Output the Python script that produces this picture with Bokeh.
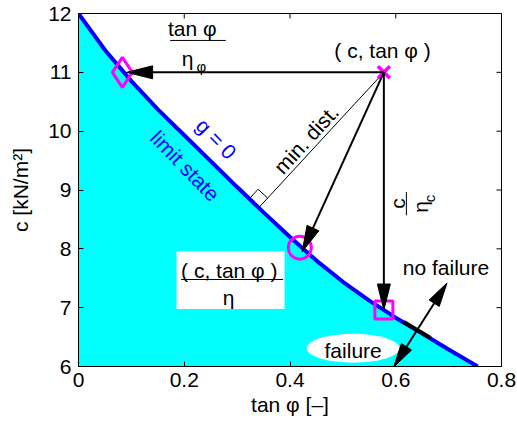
import math
from bokeh.plotting import figure
from bokeh.models import FixedTicker, Range1d, ColumnDataSource
from bokeh.embed import file_html
from bokeh.resources import INLINE
from bokeh.core.properties import value

# ---------------- data ----------------
tan_phi = [0.0, 0.05, 0.10, 0.15, 0.20, 0.25, 0.30, 0.35, 0.40, 0.45,
           0.50, 0.55, 0.60, 0.65, 0.70, 0.755]
c_limit = [12.0, 11.38, 10.85, 10.37, 9.93, 9.49, 9.05, 8.62, 8.20, 7.80,
           7.44, 7.12, 6.83, 6.56, 6.29, 6.0]

x_ticks = [0, 0.2, 0.4, 0.6, 0.8]
y_ticks = [6, 7, 8, 9, 10, 11, 12]

design_pt = (0.5775, 11.0)      # ( c, tan phi )  cross
pt_phi = (0.083, 11.0)          # reduced tan phi  diamond
pt_eta = (0.4186, 8.02)         # reduced both     circle
pt_c = (0.5775, 6.96)           # reduced c        square
tip_phi = (0.091, 11.0)
tip_eta = (0.423, 7.95)
foot_pt = (0.341, 8.70)         # min. distance foot
normal_seg = [(0.6153, 6.757), (0.6657, 6.485)]  # black piece of limit line
dbl_arrow = [(0.596, 5.99), (0.697, 7.42)]

# ---------------- figure ----------------
W, H = 517, 429
BL, BR, BT, BB = 78, 16, 13, 63
FW, FH = W - BL - BR, H - BT - BB
X0, X1, Y0, Y1 = 0.0, 0.8, 6.0, 12.0
SX, SY = FW / (X1 - X0), FH / (Y1 - Y0)

FONT = "Liberation Sans"

p = figure(width=W, height=H, x_range=Range1d(X0, X1), y_range=Range1d(Y0, Y1),
           output_backend="svg", toolbar_location=None,
           min_border_left=BL, min_border_right=BR,
           min_border_top=BT, min_border_bottom=BB)
p.grid.visible = False
p.outline_line_color = "black"
p.outline_line_alpha = 1
p.outline_line_width = 1
p.background_fill_color = "white"
p.border_fill_color = "white"

for ax, ticks in ((p.xaxis[0], x_ticks), (p.yaxis[0], y_ticks)):
    ax.ticker = FixedTicker(ticks=ticks)
    ax.major_tick_in = 5
    ax.major_tick_out = 0
    ax.minor_tick_in = 0
    ax.minor_tick_out = 0
    ax.axis_line_color = "black"
    ax.major_tick_line_color = "black"
    ax.major_label_text_font = FONT
    ax.major_label_text_font_size = "21px"
    ax.major_label_text_color = "black"
    ax.axis_label_text_font = FONT
    ax.axis_label_text_font_size = "21px"
    ax.axis_label_text_font_style = "normal"
    ax.axis_label_text_color = "black"

p.xaxis.axis_label = "tan φ [–]"
p.yaxis.axis_label = "c [kN/m²]"
p.xaxis.major_label_standoff = 6
p.xaxis.axis_label_standoff = 3
p.yaxis.major_label_standoff = 7
p.yaxis.axis_label_standoff = 13

# box ticks on top and right (inside), derived from the tick lists
TL = 5
p.segment(x0=x_ticks, y0=[Y1] * len(x_ticks), x1=x_ticks, y1=[Y1 - TL / SY] * len(x_ticks),
          line_color="black", line_width=1)
p.segment(x0=[X1] * len(y_ticks), y0=y_ticks, x1=[X1 - TL / SX] * len(y_ticks), y1=y_ticks,
          line_color="black", line_width=1)

# failure region and limit state
p.varea(x=tan_phi, y1=[Y0] * len(tan_phi), y2=c_limit, fill_color="#00FFFF")
p.line(tan_phi, c_limit, line_color="#0000FF", line_width=4)
p.line([q[0] for q in normal_seg], [q[1] for q in normal_seg], line_color="black", line_width=4)

# white boxes
p.rect(x=[0.2875], y=[7.468], width=[0.2043], height=[0.985],
       fill_color="white", line_color=None)
p.ellipse(x=[0.5194], y=[6.31], width=[0.176], height=[0.49],
          fill_color="white", line_color=None)

# fraction bars
p.segment(x0=[0.1734, 0.194], y0=[11.542, 7.479], x1=[0.2786, 0.387], y1=[11.542, 7.479],
          line_color="black", line_width=1)
p.segment(x0=[0.6201], y0=[8.57], x1=[0.6201], y1=[8.966], line_color="black", line_width=1)

# texts
R = math.pi / 2
ann = dict(
    t=["tan  φ", "η", "φ", "( c, tan  φ )", "min. dist.", "g = 0", "limit state",
       "( c, tan  φ )", "η", "c", "η", "c", "no failure", "failure"],
    x=[0.2207, 0.2061, 0.2326, 0.5806, 0.4306, 0.2606, 0.2015,
       0.2907, 0.284, 0.6027, 0.6467, 0.6647, 0.695, 0.5194],
    y=[11.745, 11.236, 11.10, 11.37, 9.861, 9.87, 9.41,
       7.637, 7.18, 8.769, 8.711, 8.854, 7.69, 6.28],
    a=[0, 0, 0, 0, 0.83, -0.80, -0.80, 0, 0, R, R, R, 0, 0],
    s=["21px", "21px", "15px", "21px", "21px", "21px", "21px",
       "21px", "21px", "21px", "21px", "15px", "21px", "21px"],
    col=["black", "black", "black", "black", "black", "#0000FF", "#0000FF",
         "black", "black", "black", "black", "black", "black", "black"],
)
p.text(x="x", y="y", text="t", angle="a", text_font_size="s", text_color="col",
       text_font=value(FONT), text_align="center", text_baseline="middle",
       source=ColumnDataSource(ann))

# min. distance line and right-angle marker
p.line([design_pt[0], foot_pt[0]], [design_pt[1], foot_pt[1]], line_color="black", line_width=1)
dx = (design_pt[0] - foot_pt[0]) * SX
dy = (design_pt[1] - foot_pt[1]) * SY
n = math.hypot(dx, dy)
ux, uy = dx / n, dy / n
vx, vy = -uy, ux
m = 13
fx, fy = foot_pt[0] * SX, foot_pt[1] * SY
sq = [(fx + m * ux, fy + m * uy), (fx + m * ux + m * vx, fy + m * uy + m * vy), (fx + m * vx, fy + m * vy)]
p.line([q[0] / SX for q in sq], [q[1] / SY for q in sq], line_color="black", line_width=1)

# markers
p.scatter([pt_phi[0]], [pt_phi[1]], marker="diamond", size=30, fill_color=None,
          line_color="#FF00FF", line_width=3)
p.scatter([pt_eta[0]], [pt_eta[1]], marker="circle", size=23, fill_color=None,
          line_color="#FF00FF", line_width=3)
p.scatter([pt_c[0]], [pt_c[1]], marker="square", size=18, fill_color=None,
          line_color="#FF00FF", line_width=3)
p.scatter([design_pt[0]], [design_pt[1]], marker="x", size=17,
          line_color="#FF00FF", line_width=3.5)


def head(tail, tip, L=26.0, Wh=6.5):
    ddx = (tip[0] - tail[0]) * SX
    ddy = (tip[1] - tail[1]) * SY
    nn = math.hypot(ddx, ddy)
    ex, ey = ddx / nn, ddy / nn
    bx, by = tip[0] * SX - L * ex, tip[1] * SY - L * ey
    qx, qy = -ey, ex
    xs = [tip[0], (bx + Wh * qx) / SX, (bx - Wh * qx) / SX]
    ys = [tip[1], (by + Wh * qy) / SY, (by - Wh * qy) / SY]
    return xs, ys, (bx / SX, by / SY)


hx, hy, lx0, ly0, lx1, ly1 = [], [], [], [], [], []
for tip in (tip_phi, tip_eta, pt_c):
    xs, ys, b = head(design_pt, tip)
    hx.append(xs); hy.append(ys)
    lx0.append(design_pt[0]); ly0.append(design_pt[1]); lx1.append(b[0]); ly1.append(b[1])
xs1, ys1, b1 = head(dbl_arrow[1], dbl_arrow[0], L=24, Wh=6)
xs2, ys2, b2 = head(dbl_arrow[0], dbl_arrow[1], L=24, Wh=6)
hx += [xs1, xs2]; hy += [ys1, ys2]
lx0.append(b1[0]); ly0.append(b1[1]); lx1.append(b2[0]); ly1.append(b2[1])

p.segment(x0=lx0, y0=ly0, x1=lx1, y1=ly1, line_color="black", line_width=2)
p.patches(hx, hy, fill_color="black", line_color="black", line_width=1)

open("out.html", "w").write(file_html(p, INLINE))
